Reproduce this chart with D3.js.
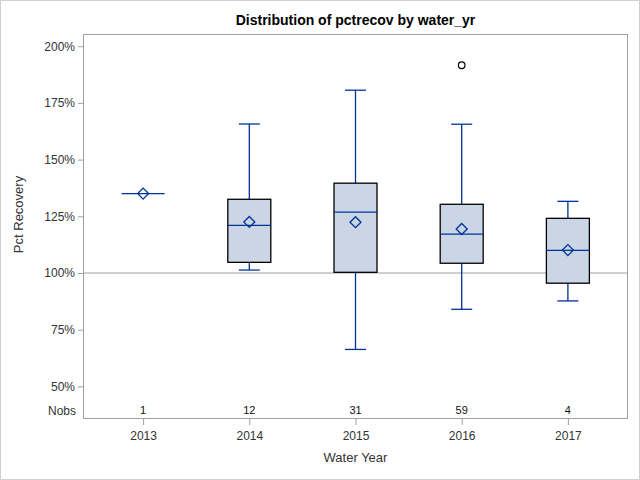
<!DOCTYPE html>
<html><head><meta charset="utf-8">
<script src="https://cdn.jsdelivr.net/npm/d3@7"></script>
<style>body{margin:0;background:#fff}svg{display:block;font-family:"Liberation Sans",Arial,sans-serif}</style>
</head><body><svg id="c" width="640" height="480"></svg>
<script>
const years = ["2013","2014","2015","2016","2017"];
const nobs = [1,12,31,59,4];
const whiskerLow = [135,101.3,66.3,84,87.7];
const q1 = [135,104.7,100.3,104.3,95.5];
const median = [135,121,126.8,117.1,110];
const q3 = [135,132.5,139.6,130.3,124.1];
const whiskerHigh = [135,165.7,180.6,165.6,131.6];
const means = [135,122.5,122.4,119.4,110.1];
const outliers = [[],[],[],[191.6],[]];
const yTicks = [50,75,100,125,150,175,200];

const svg = d3.select("#c");
const L=83,R=628,T=34,B=419;
svg.append("rect").attr("x",0.5).attr("y",0.5).attr("width",639).attr("height",479).attr("fill","#fff").attr("stroke","#d0d0d0");
const x = d3.scalePoint().domain(years).range([L,R]).padding(0.566);
const y = d3.scaleLinear().domain([100,125]).range([273,216.3]);
const blue="#003399", grey="#a0a0a0";
const bw=43, cw=21;

svg.append("text").attr("x",(L+R)/2).attr("y",25).attr("text-anchor","middle").attr("font-weight","bold").attr("font-size",14).text("Distribution of pctrecov by water_yr");

// y axis
const ya = svg.append("g").attr("transform",`translate(${L},0)`).call(d3.axisLeft(y).tickValues(yTicks).tickSize(5).tickFormat(d=>d+"%"));
ya.select(".domain").remove();
ya.selectAll("line").attr("stroke",grey);
ya.selectAll("text").attr("font-size",12).attr("fill","#333").attr("font-family","Liberation Sans, Arial, sans-serif").attr("x",-8);
svg.append("text").attr("transform",`translate(23,${(T+B)/2-12}) rotate(-90)`).attr("text-anchor","middle").attr("font-size",13).attr("fill","#333").text("Pct Recovery");

// x axis
const xa = svg.append("g").attr("transform",`translate(0,${B})`).call(d3.axisBottom(x).tickSize(6).tickPadding(6));
xa.select(".domain").remove();
xa.selectAll("line").attr("stroke",grey);
xa.selectAll("text").attr("font-size",12).attr("fill","#333").attr("font-family","Liberation Sans, Arial, sans-serif");
svg.append("text").attr("x",(L+R)/2).attr("y",462).attr("text-anchor","middle").attr("font-size",13).attr("fill","#333").text("Water Year");

// reference line
svg.append("line").attr("x1",L).attr("x2",R).attr("y1",y(100)).attr("y2",y(100)).attr("stroke",grey).attr("stroke-width",1);

const g = svg.append("g");
years.forEach((yr,i)=>{
  const cx=x(yr);
  if(nobs[i]>1){
    g.append("line").attr("x1",cx).attr("x2",cx).attr("y1",y(whiskerHigh[i])).attr("y2",y(q3[i])).attr("stroke",blue).attr("stroke-width",1.3);
    g.append("line").attr("x1",cx).attr("x2",cx).attr("y1",y(q1[i])).attr("y2",y(whiskerLow[i])).attr("stroke",blue).attr("stroke-width",1.3);
    [whiskerHigh[i],whiskerLow[i]].forEach(v=>g.append("line").attr("x1",cx-cw/2).attr("x2",cx+cw/2).attr("y1",y(v)).attr("y2",y(v)).attr("stroke",blue).attr("stroke-width",1.3));
    g.append("rect").attr("x",cx-bw/2).attr("y",y(q3[i])).attr("width",bw).attr("height",y(q1[i])-y(q3[i])).attr("fill","#cad5e5").attr("stroke","#000").attr("stroke-width",1.3);
  }
  g.append("line").attr("x1",cx-bw/2).attr("x2",cx+bw/2).attr("y1",y(median[i])).attr("y2",y(median[i])).attr("stroke",blue).attr("stroke-width",1.3);
  g.append("path").attr("d",d3.symbol(d3.symbolDiamond2? d3.symbolSquare: d3.symbolSquare,60)()).attr("transform",`translate(${cx},${y(means[i])}) rotate(45)`).attr("fill","none").attr("stroke",blue).attr("stroke-width",1.3);
  outliers[i].forEach(v=>g.append("circle").attr("cx",cx).attr("cy",y(v)).attr("r",3.3).attr("fill","none").attr("stroke","#000").attr("stroke-width",1.2));
  svg.append("text").attr("x",cx).attr("y",414).attr("text-anchor","middle").attr("font-size",11).attr("fill","#111").text(nobs[i]);
});
svg.append("text").attr("x",L-7).attr("y",415).attr("text-anchor","end").attr("font-size",12).attr("fill","#333").text("Nobs");

svg.append("rect").attr("x",L+0.5).attr("y",T+0.5).attr("width",R-L-1).attr("height",B-T-1).attr("fill","none").attr("stroke",grey);
</script></body></html>
